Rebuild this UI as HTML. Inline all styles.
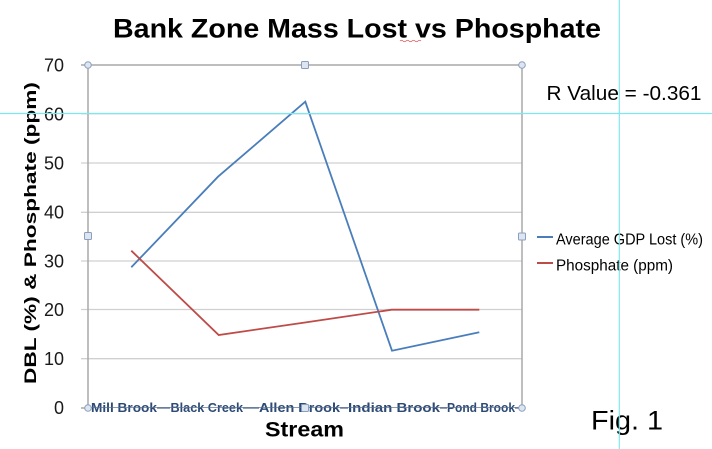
<!DOCTYPE html>
<html><head><meta charset="utf-8"><style>
html,body{margin:0;padding:0;background:#fff;}
svg{display:block;}
text{font-family:"Liberation Sans",sans-serif;}
</style></head><body>
<svg width="712" height="449" viewBox="0 0 712 449" xmlns="http://www.w3.org/2000/svg">
<rect width="712" height="449" fill="#fff"/>
<!-- title -->
<text x="113" y="37.5" font-size="26.5" font-weight="bold" fill="#000" textLength="488" lengthAdjust="spacingAndGlyphs">Bank Zone Mass Lost vs Phosphate</text>
<path d="M400 41 q1.5 -1.5 3 0 t3 0 t3 0 t3 0 t3 0 t3 0 t3 0" stroke="#e05050" stroke-width="0.8" fill="none"/>
<!-- gridlines -->
<g stroke="#d0d0d0" stroke-width="1.3">
<line x1="81" y1="113.7" x2="522" y2="113.7"/>
<line x1="81" y1="163" x2="522" y2="163"/>
<line x1="81" y1="212.3" x2="522" y2="212.3"/>
<line x1="81" y1="261" x2="522" y2="261"/>
<line x1="81" y1="309.5" x2="522" y2="309.5"/>
<line x1="81" y1="358.7" x2="522" y2="358.7"/>
</g>
<g stroke="#a8a8a8" stroke-width="1.5">
<line x1="81" y1="65" x2="522" y2="65"/>
<line x1="88" y1="65" x2="88" y2="408"/>
<line x1="522" y1="65" x2="522" y2="408"/>
<line x1="81" y1="408" x2="88" y2="408"/>
</g>
<!-- y tick labels -->
<g font-size="18" fill="#1a1a1a" text-anchor="end">
<text x="64" y="71.5">70</text>
<text x="64" y="120.5">60</text>
<text x="64" y="169.5">50</text>
<text x="64" y="218.5">40</text>
<text x="64" y="267.5">30</text>
<text x="64" y="316">20</text>
<text x="64" y="365">10</text>
<text x="64" y="414">0</text>
</g>
<!-- y axis title -->
<text transform="translate(36,384) rotate(-90)" font-size="17" font-weight="bold" fill="#000" textLength="302" lengthAdjust="spacingAndGlyphs">DBL  (%) &amp; Phosphate (ppm)</text>
<!-- series -->
<polyline points="131.3,267.3 218,176.7 305.3,101.7 392,350.7 479.3,332.3" fill="none" stroke="#4a7ebb" stroke-width="1.8" stroke-linejoin="miter"/>
<polyline points="131.3,250.7 218.7,335 305,322.5 391.7,309.7 479.3,309.7" fill="none" stroke="#be4b48" stroke-width="1.8"/>
<!-- x axis line -->
<line x1="88" y1="408" x2="522" y2="408" stroke="#6f82a0" stroke-width="1.5"/>
<!-- x labels -->
<g font-size="12.5" font-weight="bold" fill="#2c4a75">
<rect x="91" y="401" width="66" height="13" fill="#fff"/>
<rect x="170" y="401" width="73" height="13" fill="#fff"/>
<rect x="259" y="401" width="81" height="13" fill="#fff"/>
<rect x="348" y="401" width="92" height="13" fill="#fff"/>
<rect x="447" y="401" width="68" height="13" fill="#fff"/>
<text x="91" y="412" textLength="66" lengthAdjust="spacingAndGlyphs">Mill Brook</text>
<text x="170.5" y="412" textLength="72.5" lengthAdjust="spacingAndGlyphs">Black Creek</text>
<text x="259" y="412" textLength="81" lengthAdjust="spacingAndGlyphs">Allen Brook</text>
<text x="348" y="412" textLength="92" lengthAdjust="spacingAndGlyphs">Indian Brook</text>
<text x="447" y="412" textLength="68" lengthAdjust="spacingAndGlyphs">Pond Brook</text>
</g>
<line x1="88" y1="407.5" x2="522" y2="407.5" stroke="#5b6f90" stroke-width="1" opacity="0.7"/>
<!-- handles -->
<g fill="#dde5f0" stroke="#8a9fbf" stroke-width="1">
<circle cx="88" cy="65" r="3.3"/>
<circle cx="522" cy="65" r="3.3"/>
<circle cx="88" cy="408" r="3.3"/>
<circle cx="522" cy="408" r="3.3"/>
<rect x="301.5" y="61.5" width="7" height="7" rx="1"/>
<rect x="84.5" y="232.5" width="7" height="7" rx="1"/>
<rect x="518.5" y="233" width="7" height="7" rx="1"/>
<rect x="301.5" y="404.5" width="7" height="7" rx="1"/>
</g>
<!-- x axis title -->
<text x="265" y="436.7" font-size="21.5" font-weight="bold" fill="#000" textLength="79" lengthAdjust="spacingAndGlyphs">Stream</text>
<!-- legend -->
<line x1="537" y1="237" x2="553" y2="237" stroke="#4a7ebb" stroke-width="2"/>
<line x1="537" y1="263" x2="553" y2="263" stroke="#be4b48" stroke-width="2"/>
<text x="556" y="244.3" font-size="15.5" fill="#000" textLength="147" lengthAdjust="spacingAndGlyphs">Average GDP Lost (%)</text>
<text x="556" y="270.5" font-size="15.5" fill="#000" textLength="117" lengthAdjust="spacingAndGlyphs">Phosphate (ppm)</text>
<!-- R value -->
<text x="546.5" y="100" font-size="20.5" fill="#000" textLength="155" lengthAdjust="spacingAndGlyphs">R Value = -0.361</text>
<!-- Fig -->
<text x="591" y="429.3" font-size="26.5" fill="#000" textLength="72" lengthAdjust="spacingAndGlyphs">Fig. 1</text>
<!-- cyan guides -->
<line x1="0" y1="113.5" x2="712" y2="113.5" stroke="#7fe8ee" stroke-width="1.2"/>
<line x1="619.3" y1="0" x2="619.3" y2="449" stroke="#7fe8ee" stroke-width="1.2"/>
</svg>
</body></html>
